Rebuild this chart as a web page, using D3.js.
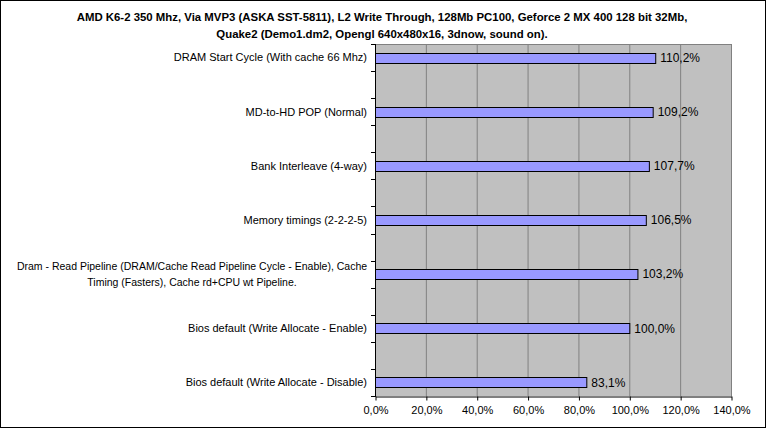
<!DOCTYPE html>
<html>
<head>
<meta charset="utf-8">
<script src="https://cdn.jsdelivr.net/npm/d3@7"></script>
<style>
  body { margin: 0; background: #fff; }
  text { font-family: "Liberation Sans", Arial, sans-serif; fill: #000; }
</style>
</head>
<body>
<div class="chart"></div>
<script>
// data, top to bottom as shown
let categories = [
    ["DRAM Start Cycle (With cache 66 Mhz)"],
    ["MD-to-HD POP (Normal)"],
    ["Bank Interleave (4-way)"],
    ["Memory timings (2-2-2-5)"],
    ["Dram - Read Pipeline (DRAM/Cache Read Pipeline Cycle - Enable), Cache",
     "Timing (Fasters), Cache rd+CPU wt Pipeline."],
    ["Bios default (Write Allocate - Enable)"],
    ["Bios default (Write Allocate - Disable)"]
];
let values = [110.2, 109.2, 107.7, 106.5, 103.2, 100.0, 83.1];
let xTicks = [0, 20, 40, 60, 80, 100, 120, 140];
let titleLines = [
    "AMD K6-2 350 Mhz, Via MVP3 (ASKA SST-5811), L2 Write Through, 128Mb PC100, Geforce 2 MX 400 128 bit 32Mb,",
    "Quake2 (Demo1.dm2, Opengl 640x480x16, 3dnow, sound on)."
];

let width = 766;
let height = 428;
let plotLeft = 375, plotRight = 731, plotTop = 44, plotBottom = 396;

let svg = d3.select(".chart")
    .append("svg")
    .attr("width", width)
    .attr("height", height);

// chart border
svg.append("rect")
    .attr("x", 0.5).attr("y", 0.5)
    .attr("width", width - 1).attr("height", height - 1)
    .attr("fill", "#fff")
    .attr("stroke", "#000");

// title
svg.append("g").selectAll("text")
    .data(titleLines)
    .enter().append("text")
    .attr("x", 382)
    .attr("y", function(d, i) { return 21 + i * 17; })
    .attr("text-anchor", "middle")
    .style("font-size", "11.4px")
    .style("font-weight", "bold")
    .text(function(d) { return d; });

let x = d3.scaleLinear()
    .domain([0, 140])
    .range([plotLeft, plotRight]);

// Excel puts an empty slot between categories: 13 slots, data on even ones
let slots = d3.range(categories.length * 2 - 1);
let y = d3.scaleBand()
    .domain(slots)
    .range([plotTop, plotBottom]);

function fmt(v) {
    return v.toFixed(1).replace(".", ",") + "%";
}

// plot area
svg.append("rect")
    .attr("x", plotLeft).attr("y", plotTop)
    .attr("width", plotRight - plotLeft)
    .attr("height", plotBottom - plotTop)
    .attr("fill", "#c0c0c0");

// vertical gridlines
svg.append("g").selectAll("line")
    .data(xTicks.slice(1))
    .enter().append("line")
    .attr("x1", function(d) { return x(d) + 0.5; })
    .attr("x2", function(d) { return x(d) + 0.5; })
    .attr("y1", plotTop)
    .attr("y2", plotBottom)
    .attr("stroke", "#808080");

// top border of plot area
svg.append("line")
    .attr("x1", plotLeft).attr("x2", plotRight + 1)
    .attr("y1", plotTop + 0.5).attr("y2", plotTop + 0.5)
    .attr("stroke", "#808080");

// bars
let barH = 10;
svg.append("g").selectAll("rect")
    .data(values)
    .enter().append("rect")
    .attr("x", x(0) + 0.5)
    .attr("y", function(d, i) { return Math.round(y(i * 2) + y.bandwidth() / 2 - barH / 2) + 0.5; })
    .attr("width", function(d) { return x(d) - x(0); })
    .attr("height", barH)
    .attr("fill", "#9999ff")
    .attr("stroke", "#000");

// value labels
svg.append("g").selectAll("text")
    .data(values)
    .enter().append("text")
    .attr("x", function(d) { return x(d) + 5; })
    .attr("y", function(d, i) { return y(i * 2) + y.bandwidth() / 2; })
    .attr("dy", "0.36em")
    .style("font-size", "12px")
    .text(function(d) { return fmt(d); });

// x axis
let xAxis = d3.axisBottom(x)
    .tickValues(xTicks)
    .tickSize(4)
    .tickSizeOuter(0)
    .tickFormat(fmt);

let gx = svg.append("g")
    .attr("transform", `translate(0.5, ${plotBottom + 0.5})`)
    .call(xAxis);
gx.select(".domain").attr("stroke", "#000");
gx.selectAll("text")
    .style("font-size", "11px")
    .style("font-family", "Liberation Sans, Arial, sans-serif")
    .attr("dy", "0.95em");

// y axis line and tick marks at slot boundaries
let bounds = slots.map(function(s) { return y(s); }).concat([plotBottom]);
svg.append("line")
    .attr("x1", plotLeft + 0.5).attr("x2", plotLeft + 0.5)
    .attr("y1", plotTop).attr("y2", plotBottom + 1)
    .attr("stroke", "#000");
svg.append("g").selectAll("line")
    .data(bounds)
    .enter().append("line")
    .attr("x1", plotLeft - 4)
    .attr("x2", plotLeft)
    .attr("y1", function(d) { return Math.round(d) + 0.5; })
    .attr("y2", function(d) { return Math.round(d) + 0.5; })
    .attr("stroke", "#000");

// category labels
let labels = svg.append("g").selectAll("text")
    .data(categories)
    .enter().append("text")
    .style("font-size", function(d) { return d.length > 1 ? "10.5px" : "11px"; })
    .attr("text-anchor", function(d) { return d.length > 1 ? "middle" : "end"; })
    .attr("x", function(d) { return d.length > 1 ? 192 : 367; })
    .attr("y", function(d, i) { return y(i * 2) + y.bandwidth() / 2; });

labels.selectAll("tspan")
    .data(function(d) { return d.map(function(t, j) { return [t, j, d.length]; }); })
    .enter().append("tspan")
    .attr("x", function(d) { return d[2] > 1 ? 192 : 367; })
    .attr("dy", function(d) {
        if (d[2] == 1) return "0.36em";
        return d[1] == 0 ? "-0.4em" : "1.5em";
    })
    .text(function(d) { return d[0]; });
</script>
</body>
</html>
